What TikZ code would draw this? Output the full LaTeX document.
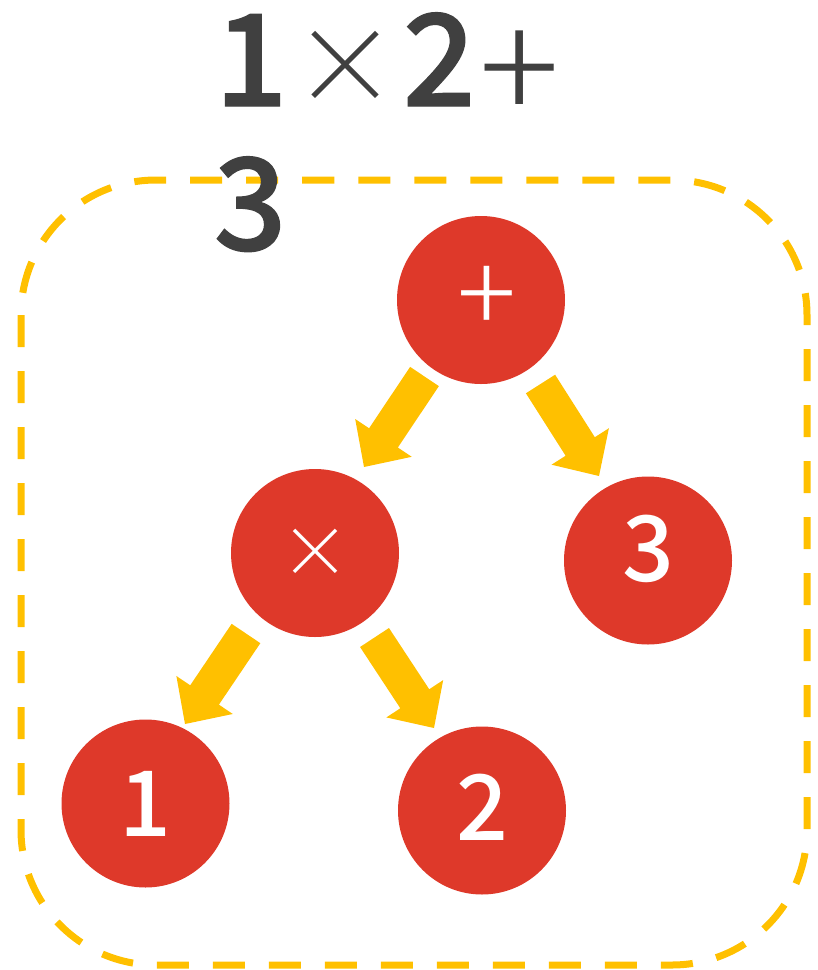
\documentclass[tikz,border=0pt]{standalone}
\usepackage{fontspec}
\usetikzlibrary{calc}
\newfontfamily\jpmed{Noto Sans CJK JP}[UprightFont=* Medium,FakeBold=1]
\newfontfamily\jpmedc{Noto Sans CJK JP}[UprightFont=* Medium]
\newfontfamily\jplight{Noto Sans CJK JP}[UprightFont=* Light]
\definecolor{nodered}{RGB}{222,57,42}
\definecolor{gold}{RGB}{255,192,0}
\definecolor{ink}{RGB}{64,64,64}
\tikzset{
  treenode/.style={circle,fill=nodered,draw=none,minimum size=168pt,inner sep=0pt,text=white},
  numlabel/.style={font=\jpmedc\fontsize{91}{96}\selectfont},
  pluslabel/.style={font=\jplight\fontsize{110}{110}\selectfont},
  timeslabel/.style={font=\jplight\fontsize{70}{72}\selectfont},
  titletext/.style={text=ink,inner sep=0pt,anchor=base west,font=\jpmed\fontsize{128}{144}\selectfont},
  frame/.style={draw=gold,line width=7pt,dash pattern=on 32pt off 24pt,rounded corners=135pt},
  arrowfill/.style={fill=gold,draw=none}
}
\newcommand\blockarr[2]{%
  \coordinate (bb) at ($(#2)!35pt!(#1)$);
  \fill[arrowfill] ($(#1)!17.3pt!90:(#2)$) -- ($(bb)!17.3pt!90:(#2)$) -- ($(bb)!34pt!90:(#2)$)
    -- (#2) -- ($(bb)!34pt!-90:(#2)$) -- ($(bb)!17.3pt!-90:(#2)$) -- ($(#1)!17.3pt!-90:(#2)$) -- cycle;
}
\newcommand\tsym[1]{{\jplight\fontsize{106}{106}\selectfont\raisebox{2pt}{#1}}}
\newcommand\tplus{{\jplight\fontsize{150}{150}\selectfont\raisebox{-16pt}{+}}}
\begin{document}
\begin{tikzpicture}[x=1pt,y=-1pt]
\useasboundingbox (0,0) rectangle (818,970);
\draw[frame] (21,180) rectangle (807,965);
\node[titletext] (title1) at (215,106) {\makebox[72pt][c]{1}\makebox[116pt][c]{\tsym{×}}\makebox[72pt][c]{2}\makebox[88pt][c]{\tplus}};
\node[titletext] (title2) at ($(title1.base west)+(0,144)$) {\makebox[70pt][c]{3}};
\node[treenode,pluslabel] (plus) at (481,300) {\hspace*{12pt}\raisebox{-22pt}{+}};
\node[treenode,timeslabel] (times) at (315,553) {×};
\node[treenode,numlabel] (three) at (648,560.5) {\raisebox{24pt}{3}};
\node[treenode,numlabel] (one) at (145.5,803.5) {1};
\node[treenode,numlabel] (two) at (482,810.5) {\raisebox{6pt}{2}};
\coordinate (a1s) at (424.5,376.5); \coordinate (a1t) at (364,467);
\coordinate (a2s) at (540.5,384);   \coordinate (a2t) at (599,476);
\coordinate (a3s) at (246,633.5);   \coordinate (a3t) at (185,724);
\coordinate (a4s) at (374.5,637.5); \coordinate (a4t) at (434,728);
\blockarr{a1s}{a1t}
\blockarr{a2s}{a2t}
\blockarr{a3s}{a3t}
\blockarr{a4s}{a4t}
\end{tikzpicture}
\end{document}
